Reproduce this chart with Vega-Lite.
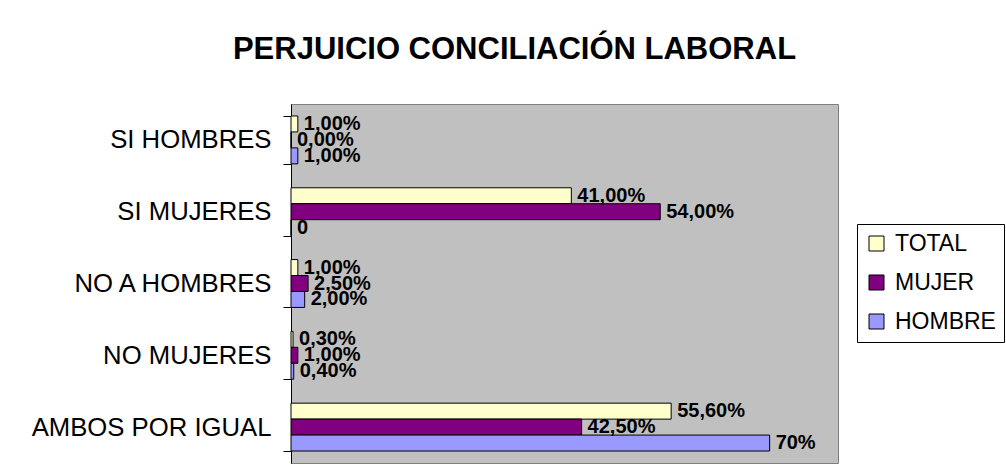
{
  "$schema": "https://vega.github.io/schema/vega-lite/v6.json",
  "width": 547,
  "height": 359,
  "autosize": {"type": "none"},
  "padding": {"left": 291, "top": 104, "right": 168, "bottom": 12},
  "background": "white",
  "title": {
    "text": "PERJUICIO CONCILIACIÓN LABORAL",
    "font": "Liberation Sans",
    "fontSize": 31,
    "fontWeight": "bold",
    "color": "black",
    "anchor": "middle",
    "frame": "group",
    "dx": -50,
    "baseline": "alphabetic",
    "offset": 1
  },
  "config": {
    "font": "Liberation Sans",
    "view": {"fill": "#C0C0C0", "stroke": "#808080", "strokeWidth": 1}
  },
  "data": {
    "values": [
      {"cat": "SI HOMBRES", "serie": "TOTAL", "value": 1.0, "label": "1,00%"},
      {"cat": "SI HOMBRES", "serie": "MUJER", "value": 0.0, "label": "0,00%"},
      {"cat": "SI HOMBRES", "serie": "HOMBRE", "value": 1.0, "label": "1,00%"},
      {"cat": "SI MUJERES", "serie": "TOTAL", "value": 41.0, "label": "41,00%"},
      {"cat": "SI MUJERES", "serie": "MUJER", "value": 54.0, "label": "54,00%"},
      {"cat": "SI MUJERES", "serie": "HOMBRE", "value": 0, "label": "0"},
      {"cat": "NO A HOMBRES", "serie": "TOTAL", "value": 1.0, "label": "1,00%"},
      {"cat": "NO A HOMBRES", "serie": "MUJER", "value": 2.5, "label": "2,50%"},
      {"cat": "NO A HOMBRES", "serie": "HOMBRE", "value": 2.0, "label": "2,00%"},
      {"cat": "NO MUJERES", "serie": "TOTAL", "value": 0.3, "label": "0,30%"},
      {"cat": "NO MUJERES", "serie": "MUJER", "value": 1.0, "label": "1,00%"},
      {"cat": "NO MUJERES", "serie": "HOMBRE", "value": 0.4, "label": "0,40%"},
      {"cat": "AMBOS POR IGUAL", "serie": "TOTAL", "value": 55.6, "label": "55,60%"},
      {"cat": "AMBOS POR IGUAL", "serie": "MUJER", "value": 42.5, "label": "42,50%"},
      {"cat": "AMBOS POR IGUAL", "serie": "HOMBRE", "value": 70, "label": "70%"}
    ]
  },
  "encoding": {
    "y": {
      "field": "cat",
      "type": "nominal",
      "sort": ["SI HOMBRES", "SI MUJERES", "NO A HOMBRES", "NO MUJERES", "AMBOS POR IGUAL"],
      "scale": {"paddingInner": 0.3333, "paddingOuter": 0.1667},
      "title": null,
      "axis": {
        "domain": true,
        "domainColor": "black",
        "ticks": true,
        "tickBand": "extent",
        "tickSize": 8,
        "tickColor": "black",
        "labelFontSize": 25.7,
        "labelColor": "black",
        "labelFont": "Liberation Sans",
        "labelPadding": 12,
        "labelLimit": 400,
        "grid": false
      }
    },
    "yOffset": {
      "field": "serie",
      "type": "nominal",
      "sort": ["TOTAL", "MUJER", "HOMBRE"],
      "scale": {"padding": 0}
    },
    "x": {
      "field": "value",
      "type": "quantitative",
      "scale": {"domain": [0, 80], "nice": false},
      "axis": null
    }
  },
  "layer": [
    {
      "mark": {"type": "bar", "stroke": "black", "strokeWidth": 1},
      "encoding": {
        "color": {
          "field": "serie",
          "type": "nominal",
          "scale": {"domain": ["TOTAL", "MUJER", "HOMBRE"], "range": ["#FFFFCC", "#800080", "#9999FF"]},
          "legend": {
            "orient": "none",
            "legendX": 566,
            "legendY": 120,
            "title": null,
            "labelFontSize": 23,
            "labelColor": "black",
            "labelFont": "Liberation Sans",
            "symbolType": "square",
            "symbolSize": 225,
            "symbolStrokeColor": "black",
            "symbolStrokeWidth": 1,
            "symbolOpacity": 1,
            "strokeColor": "black",
            "fillColor": "white",
            "padding": 8,
            "rowPadding": 15,
            "labelOffset": 7
          }
        }
      }
    },
    {
      "mark": {"type": "text", "align": "left", "baseline": "middle", "dx": 6, "fontSize": 20, "fontWeight": "bold", "color": "black", "font": "Liberation Sans"},
      "encoding": {"text": {"field": "label"}}
    }
  ]
}
